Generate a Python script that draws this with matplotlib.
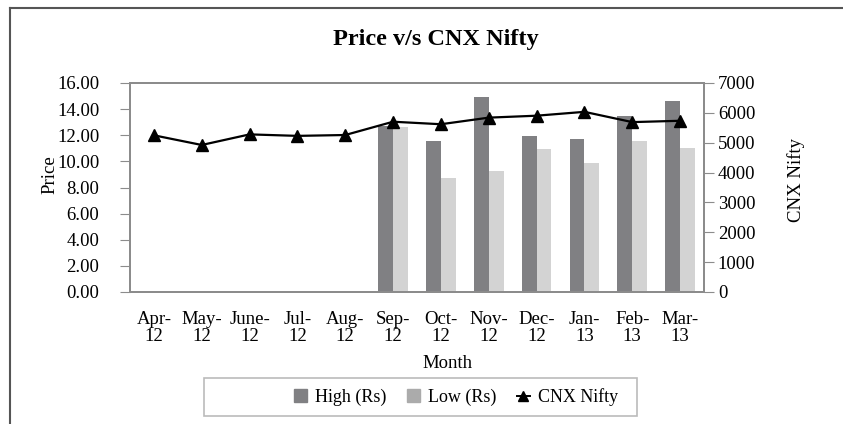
import numpy as np
import matplotlib.pyplot as plt
from matplotlib.lines import Line2D
from matplotlib.patches import Rectangle, Patch

plt.rcParams['font.family'] = ['Liberation Serif', 'DejaVu Serif']

months = ["Apr-\n12", "May-\n12", "June-\n12", "Jul-\n12", "Aug-\n12", "Sep-\n12",
          "Oct-\n12", "Nov-\n12", "Dec-\n12", "Jan-\n13", "Feb-\n13", "Mar-\n13"]
high = [np.nan, np.nan, np.nan, np.nan, np.nan, 12.70, 11.57, 14.95, 11.95, 11.72, 13.45, 14.60]
low = [np.nan, np.nan, np.nan, np.nan, np.nan, 12.65, 8.70, 9.30, 10.95, 9.90, 11.55, 11.05]
nifty = [5248, 4924, 5279, 5229, 5258, 5703, 5619, 5840, 5905, 6034, 5690, 5735]

dark = '#808083'
light = '#d3d3d3'
frame = '#8c8c8c'

fig = plt.figure(figsize=(8.43, 4.24), dpi=100)
ax = fig.add_axes([130/843, 1-292/424, 574/843, 209/424])
ax2 = ax.twinx()

x = np.arange(len(months))
w = 0.31
ax.bar(x - w/2, high, w, color=dark, zorder=2)
ax.bar(x + w/2, low, w, color=light, zorder=2)
ax2.plot(x, nifty, '-^', color='black', lw=1.6, markersize=9)

ax.set_xlim(-0.5, len(months) - 0.5)
ax.set_ylim(0, 16)
ax.set_yticks(np.arange(0, 16.1, 2))
ax.set_yticklabels([f"{v:.2f}" for v in np.arange(0, 16.1, 2)])
ax2.set_ylim(0, 7000)
ax2.set_yticks(np.arange(0, 7001, 1000))

ax.set_xticks(x)
ax.set_xticklabels(months, linespacing=1.0)
ax.tick_params(axis='x', length=0, pad=14, labelsize=13.5)
ax.tick_params(axis='y', length=7, color=frame, pad=15, labelsize=13.5)
ax2.tick_params(axis='y', length=7, color=frame, pad=3, labelsize=13.5)

for a in (ax, ax2):
    for s in a.spines.values():
        s.set_color(frame)
        s.set_linewidth(1.4)

ax.set_ylabel('Price', fontsize=13.5)
ax.yaxis.set_label_coords(-0.124, 0.56)
ax2.set_ylabel('CNX Nifty', fontsize=13.5)
ax2.yaxis.set_label_coords(1.145, 0.535)
fig.text(447/843, 1-363/424, 'Month', ha='center', va='center', fontsize=13.5)
fig.text(436/843, 1-40/424, 'Price v/s CNX Nifty', ha='center', va='center',
         fontsize=17.5, fontweight='bold')

# legend box (wider than the items, like the original)
fig.add_artist(Rectangle((204/843, 1-416/424), 433/843, 38/424, transform=fig.transFigure,
                         fill=False, edgecolor='#bbbbbb', lw=1.2))
handles = [Patch(color=dark), Patch(color='#ababab'),
           Line2D([], [], color='black', lw=1.4, marker='^', markersize=7)]
fig.legend(handles, ['High (Rs)', 'Low (Rs)', 'CNX Nifty'], loc='center',
           bbox_to_anchor=(456/843, 1-397/424), ncol=3, frameon=False, fontsize=13,
           handlelength=0.75, handleheight=0.7, columnspacing=1.1, handletextpad=0.45)

# outer chart border
fig.add_artist(Line2D([10/843, 10/843], [0, 1-8/424], transform=fig.transFigure, color='#555555', lw=1.5))
fig.add_artist(Line2D([10/843, 1], [1-8/424, 1-8/424], transform=fig.transFigure, color='#555555', lw=1.5))

fig.savefig('out.png', dpi=100)
